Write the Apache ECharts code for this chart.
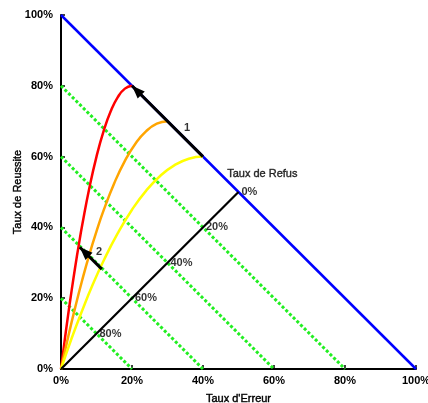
<!DOCTYPE html>
<html>
<head>
<meta charset="utf-8">
<script src="https://cdn.jsdelivr.net/npm/echarts@6/dist/echarts.min.js"></script>
<style>
  html, body { margin: 0; padding: 0; background: #fff; }
  #chart { width: 428px; height: 403px; }
</style>
</head>
<body>
<div id="chart"></div>
<script>
// Axis ticks (percent)
const tickValues = [0, 20, 40, 60, 80, 100];

// Iso-refusal lines: Erreur + Reussite = level
const refusLevels = [80, 60, 40, 20];

// Boundary: Erreur + Reussite = 100
const boundary = [[0, 100], [100, 0]];

// Operating curves (Taux d'Erreur, Taux de Reussite)
const redCurve = [[0, 0], [1, 7.8], [2, 15.2], [3, 22.2], [4, 28.8], [5, 35], [6, 40.8], [8, 51.2], [10, 60], [12, 67.2], [14, 72.8], [16, 76.8], [18, 79.2], [20, 80]];
const orangeCurve = [[0, 0], [2, 9.0], [4, 17.4], [6, 25.2], [8, 32.4], [10, 38.9], [12, 44.8], [15, 52.5], [18, 58.8], [21, 63.7], [24, 67.2], [27, 69.3], [30, 70]];
const yellowCurve = [[0, 0], [3, 8.7], [6, 16.6], [9, 24.0], [12, 30.6], [16, 38.4], [20, 45], [24, 50.4], [28, 54.6], [32, 57.6], [36, 59.4], [40, 60]];

// Taux de Refus scale along the diagonal
const refusScale = [[50, 50, '0%'], [40, 40, '20%'], [30, 30, '40%'], [20, 20, '60%'], [10, 10, '80%']];
const refusTitle = [[46.8, 55.1, 'Taux de Refus']];

// Arrows: from, to, label and label position
const arrows = [
  { from: [40, 60], to: [20, 80], text: '1', at: [35.5, 68.1] },
  { from: [11.5, 28.2], to: [5.3, 34.4], text: '2', at: [10.7, 33.1] }
];

const FONT = '"Liberation Sans", Arial, sans-serif';
const heavy = { textBorderColor: '#000', textBorderWidth: 0.4 };
const HEAD = [10, 13];

const chart = echarts.init(document.getElementById('chart'), null, { renderer: 'canvas' });

const series = [];

refusLevels.forEach(function (L) {
  series.push({
    type: 'line', data: [[0, L], [L, 0]], symbol: 'none', silent: true, z: 2,
    lineStyle: { color: '#22ee22', width: 3, type: [3, 2.2], cap: 'butt' }
  });
});

series.push({
  type: 'line', data: boundary, symbol: 'none', silent: true, z: 3,
  lineStyle: { color: '#0000ff', width: 2.5 }
});

[[redCurve, '#ff0000'], [orangeCurve, '#ffa500'], [yellowCurve, '#ffff00']].forEach(function (c) {
  series.push({
    type: 'line', data: c[0], smooth: true, symbol: 'none', silent: true, z: 4,
    lineStyle: { color: c[1], width: 2.5 }
  });
});

// Diagonal refusal axis
series.push({
  type: 'line', data: [[0, 0], [refusScale[0][0], refusScale[0][1]]], symbol: 'none', silent: true, z: 5,
  lineStyle: { color: '#000', width: 2.2 }
});

series.push({
  type: 'scatter', symbolSize: 0, silent: true, z: 6,
  data: refusScale.map(function (d) { return { value: [d[0], d[1]], name: d[2] }; }),
  label: {
    show: true, position: 'right', distance: 3, formatter: '{b}',
    color: '#000', fontFamily: FONT, fontSize: 11, fontWeight: 'bold'
  }
});

series.push({
  type: 'scatter', symbolSize: 0, silent: true, z: 6,
  data: refusTitle.map(function (d) { return { value: [d[0], d[1]], name: d[2] }; }),
  label: Object.assign({
    show: true, position: 'right', distance: 0, formatter: '{b}',
    color: '#000', fontFamily: FONT, fontSize: 11
  }, heavy)
});

arrows.forEach(function (a) {
  series.push({
    type: 'line', data: [], silent: true, z: 7,
    markLine: {
      silent: true, animation: false,
      symbol: ['none', 'triangle'], symbolSize: HEAD,
      // pull the head back so its tip sits on the end point
      symbolOffset: [[0, 0], [0, HEAD[1] / 2]],
      label: { show: false },
      lineStyle: { color: '#000', width: 3, type: 'solid' },
      data: [[{ coord: a.from }, { coord: a.to }]]
    }
  });
  series.push({
    type: 'scatter', symbolSize: 0, silent: true, z: 7,
    data: [{ value: a.at, name: a.text }],
    label: {
      show: true, position: 'inside', formatter: '{b}',
      color: '#000', fontFamily: FONT, fontSize: 11, fontWeight: 'bold'
    }
  });
});

const axisCommon = {
  type: 'value', min: 0, max: 100, interval: 20,
  axisLine: { show: true, lineStyle: { color: '#000', width: 2 } },
  axisTick: { show: true, inside: true, length: 4, lineStyle: { color: '#000', width: 1.5 } },
  splitLine: { show: false },
  axisLabel: {
    formatter: function (v) { return tickValues.indexOf(v) >= 0 ? v + '%' : ''; },
    color: '#000', fontFamily: FONT, fontSize: 11, fontWeight: 'bold'
  },
  nameLocation: 'middle',
  nameMoveOverlap: false,
  nameTextStyle: Object.assign({ color: '#000', fontFamily: FONT, fontSize: 11 }, heavy)
};

chart.setOption({
  animation: false,
  backgroundColor: '#fff',
  grid: { left: 61, right: 12, top: 15, bottom: 34, containLabel: false, outerBoundsMode: 'none' },
  xAxis: Object.assign({}, axisCommon, {
    name: "Taux d'Erreur", nameGap: 24,
    axisLabel: Object.assign({}, axisCommon.axisLabel, { margin: 6 })
  }),
  yAxis: Object.assign({}, axisCommon, {
    name: 'Taux de Reussite', nameGap: 38,
    axisLabel: Object.assign({}, axisCommon.axisLabel, { margin: 8 })
  }),
  series: series
});
</script>
</body>
</html>
